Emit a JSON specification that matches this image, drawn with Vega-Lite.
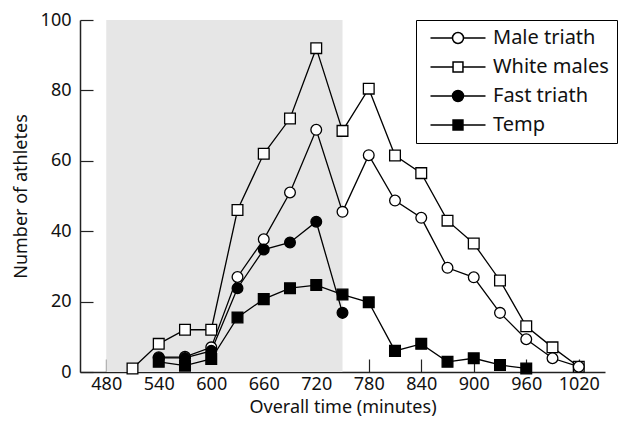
{
  "$schema": "https://vega.github.io/schema/vega-lite/v6.json",
  "width": 525,
  "height": 352,
  "autosize": "none",
  "padding": {"left": 80, "top": 20, "right": 21, "bottom": 53},
  "config": {
    "view": {"stroke": null},
    "font": "Noto Sans",
    "axis": {"grid": false, "domainColor": "#222", "domainWidth": 1.5, "tickColor": "#222", "tickWidth": 1.2, "labelColor": "#111", "titleColor": "#111", "labelFont": "Noto Sans", "titleFont": "Noto Sans", "titleFontWeight": "normal", "labelFontSize": 18, "titleFontSize": 18}
  },
  "datasets": {
    "shade": [{"x1": 480, "x2": 750, "y1": 0, "y2": 100}],
    "series": [
      {"series": "White males", "time": 510, "count": 1},
      {"series": "White males", "time": 540, "count": 8},
      {"series": "White males", "time": 570, "count": 12},
      {"series": "White males", "time": 600, "count": 12},
      {"series": "White males", "time": 630, "count": 46},
      {"series": "White males", "time": 660, "count": 62},
      {"series": "White males", "time": 690, "count": 72},
      {"series": "White males", "time": 720, "count": 92},
      {"series": "White males", "time": 750, "count": 68.5},
      {"series": "White males", "time": 780, "count": 80.5},
      {"series": "White males", "time": 810, "count": 61.5},
      {"series": "White males", "time": 840, "count": 56.5},
      {"series": "White males", "time": 870, "count": 43},
      {"series": "White males", "time": 900, "count": 36.5},
      {"series": "White males", "time": 930, "count": 26},
      {"series": "White males", "time": 960, "count": 13},
      {"series": "White males", "time": 990, "count": 7},
      {"series": "White males", "time": 1020, "count": 1.5},
      {"series": "Male triath", "time": 540, "count": 4.2},
      {"series": "Male triath", "time": 570, "count": 4.3},
      {"series": "Male triath", "time": 600, "count": 7},
      {"series": "Male triath", "time": 630, "count": 27},
      {"series": "Male triath", "time": 660, "count": 37.7},
      {"series": "Male triath", "time": 690, "count": 51},
      {"series": "Male triath", "time": 720, "count": 68.8},
      {"series": "Male triath", "time": 750, "count": 45.5},
      {"series": "Male triath", "time": 780, "count": 61.6},
      {"series": "Male triath", "time": 810, "count": 48.7},
      {"series": "Male triath", "time": 840, "count": 43.8},
      {"series": "Male triath", "time": 870, "count": 29.6},
      {"series": "Male triath", "time": 900, "count": 26.9},
      {"series": "Male triath", "time": 930, "count": 16.8},
      {"series": "Male triath", "time": 960, "count": 9.3},
      {"series": "Male triath", "time": 990, "count": 3.9},
      {"series": "Male triath", "time": 1020, "count": 1.5},
      {"series": "Fast triath", "time": 540, "count": 4},
      {"series": "Fast triath", "time": 570, "count": 4},
      {"series": "Fast triath", "time": 600, "count": 6},
      {"series": "Fast triath", "time": 630, "count": 23.8},
      {"series": "Fast triath", "time": 660, "count": 34.8},
      {"series": "Fast triath", "time": 690, "count": 36.8},
      {"series": "Fast triath", "time": 720, "count": 42.7},
      {"series": "Fast triath", "time": 750, "count": 16.8},
      {"series": "Temp", "time": 540, "count": 2.9},
      {"series": "Temp", "time": 570, "count": 1.8},
      {"series": "Temp", "time": 600, "count": 3.7},
      {"series": "Temp", "time": 630, "count": 15.5},
      {"series": "Temp", "time": 660, "count": 20.7},
      {"series": "Temp", "time": 690, "count": 23.8},
      {"series": "Temp", "time": 720, "count": 24.7},
      {"series": "Temp", "time": 750, "count": 22},
      {"series": "Temp", "time": 780, "count": 19.8},
      {"series": "Temp", "time": 810, "count": 6},
      {"series": "Temp", "time": 840, "count": 8},
      {"series": "Temp", "time": 870, "count": 2.9},
      {"series": "Temp", "time": 900, "count": 3.9},
      {"series": "Temp", "time": 930, "count": 2},
      {"series": "Temp", "time": 960, "count": 1}
    ]
  },
  "resolve": {"scale": {"shape": "independent", "fill": "independent"}, "legend": {"shape": "independent", "fill": "independent"}},
  "layer": [
    {
      "data": {"name": "shade"},
      "mark": {"type": "rect", "fill": "#e6e6e6"},
      "encoding": {
        "x": {"field": "x1", "type": "quantitative", "scale": {"domain": [480, 1020]},
          "axis": {"values": [480,510,540,570,600,630,660,690,720,750,780,810,840,870,900,930,960,990,1020], "format": "d", "labelExpr": "datum.value % 60 == 0 ? datum.label : ''", "tickSize": -13, "labelPadding": 16, "labelFlush": false, "title": "Overall time (minutes)", "titlePadding": 5}},
        "x2": {"field": "x2"},
        "y": {"field": "y1", "type": "quantitative", "scale": {"domain": [0, 100]},
          "axis": {"values": [0,20,40,60,80,100], "tickSize": -13, "labelPadding": 22, "title": "Number of athletes", "titlePadding": 10}},
        "y2": {"field": "y2"}
      }
    },
    {
      "data": {"name": "series"},
      "mark": {"type": "line", "color": "black", "strokeWidth": 1.3},
      "encoding": {
        "x": {"field": "time", "type": "quantitative"},
        "y": {"field": "count", "type": "quantitative"},
        "detail": {"field": "series"}
      }
    },
    {
      "data": {"name": "series"},
      "mark": {"type": "point", "stroke": "black", "strokeWidth": 1.3, "size": 115, "opacity": 1, "filled": false},
      "encoding": {
        "x": {"field": "time", "type": "quantitative"},
        "y": {"field": "count", "type": "quantitative"},
        "shape": {"field": "series", "type": "nominal",
          "scale": {"domain": ["Male triath", "White males", "Fast triath", "Temp"], "range": ["circle", "square", "circle", "square"]},
          "legend": null},
        "fill": {"field": "series", "type": "nominal",
          "scale": {"domain": ["Male triath", "White males", "Fast triath", "Temp"], "range": ["white", "white", "black", "black"]},
          "legend": null}
      }
    },
    {
      "data": {"name": "series"},
      "transform": [{"filter": "datum.count < -1"}],
      "mark": {"type": "point", "stroke": "black", "strokeWidth": 1.3, "opacity": 1, "filled": false},
      "encoding": {
        "x": {"field": "time", "type": "quantitative"},
        "y": {"field": "count", "type": "quantitative"},
        "shape": {"field": "series", "type": "nominal",
          "scale": {"domain": ["Male triath", "White males", "Fast triath", "Temp"], "range": [
            "M-5,0H-1M1,0H5M-1,0A1,1,0,1,0,1,0A1,1,0,1,0,-1,0Z",
            "M-5,0H-0.9M0.9,0H5M-0.9,-0.9H0.9V0.9H-0.9Z",
            "M-5,0H-1M1,0H5M-1,0A1,1,0,1,0,1,0A1,1,0,1,0,-1,0Z",
            "M-5,0H-0.9M0.9,0H5M-0.9,-0.9H0.9V0.9H-0.9Z"]},
          "legend": {
            "title": null, "orient": "none", "legendX": 336, "legendY": 0,
            "strokeColor": "black", "fillColor": "white", "padding": 8,
            "labelFontSize": 20, "labelFont": "Noto Sans", "labelColor": "#111",
            "symbolSize": 121, "symbolOffset": 24, "labelOffset": 25, "rowPadding": 9,
            "encode": {"symbols": {"update": {
              "fill": {"signal": "(datum.value == 'Male triath' || datum.value == 'White males') ? 'white' : 'black'"},
              "stroke": {"value": "black"},
              "strokeWidth": {"value": 1.3},
              "strokeOpacity": {"value": 1},
              "opacity": {"value": 1}
            }}}
          }
        },
        "fill": {"field": "series", "type": "nominal",
          "scale": {"domain": ["Male triath", "White males", "Fast triath", "Temp"], "range": ["white", "white", "black", "black"]},
          "legend": null
        }
      }
    }
  ]
}
